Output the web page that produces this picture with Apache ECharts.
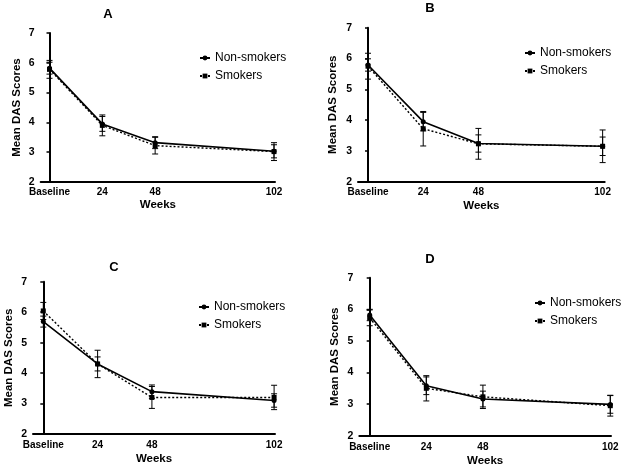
<!DOCTYPE html>
<html><head><meta charset="utf-8">
<script src="https://cdn.jsdelivr.net/npm/echarts@6/dist/echarts.min.js"></script>
<style>html,body{margin:0;padding:0;background:#fff}#c{width:624px;height:470px}</style>
</head><body><div id="c"></div>
<script>
const weeks = [0, 24, 48, 102];
const weekLabels = ['Baseline', '24', '48', '102'];
const panelTitles = ['A', 'B', 'C', 'D'];
const seriesNames = ['Non-smokers', 'Smokers'];

const nonSmokersA = [5.82, 3.95, 3.32, 3.03];
const nonSmokersErrA = [0.2, 0.25, 0.2, 0.22];
const smokersA = [5.78, 3.9, 3.22, 3.02];
const smokersErrA = [0.3, 0.35, 0.28, 0.3];

const nonSmokersB = [5.79, 3.95, 3.24, 3.15];
const nonSmokersErrB = [0.2, 0.3, 0.28, 0.3];
const smokersB = [5.75, 3.72, 3.23, 3.15];
const smokersErrB = [0.42, 0.56, 0.5, 0.53];

const nonSmokersC = [5.69, 4.3, 3.39, 3.1];
const nonSmokersErrC = [0.18, 0.23, 0.22, 0.22];
const smokersC = [6.04, 4.3, 3.2, 3.2];
const smokersErrC = [0.28, 0.45, 0.36, 0.4];

const nonSmokersD = [5.82, 3.58, 3.16, 2.99];
const nonSmokersErrD = [0.18, 0.28, 0.25, 0.28];
const smokersD = [5.73, 3.5, 3.23, 2.95];
const smokersErrD = [0.25, 0.4, 0.37, 0.33];

const panels = [
  {ns: nonSmokersA, nsE: nonSmokersErrA, s: smokersA, sE: smokersErrA},
  {ns: nonSmokersB, nsE: nonSmokersErrB, s: smokersB, sE: smokersErrB},
  {ns: nonSmokersC, nsE: nonSmokersErrC, s: smokersC, sE: smokersErrC},
  {ns: nonSmokersD, nsE: nonSmokersErrD, s: smokersD, sE: smokersErrD}
];

// layout per panel
const layout = [
  {left: 40.7, top: 33, width: 234.3, height: 149, xmin: -4.0, xmax: 102.45, yGap: 18.3, xGap: 17, lblM: 5,
   title: [108, 7.5], legend: [199, 52]},
  {left: 358, top: 27.7, width: 246.7, height: 154, xmin: -4.35, xmax: 102.9, yGap: 19.5, xGap: 18, lblM: 5.3,
   title: [430, 1.5], legend: [524, 47]},
  {left: 33, top: 281.7, width: 242, height: 152.3, xmin: -4.55, xmax: 102.4, yGap: 18, xGap: 19, lblM: 6,
   title: [114, 260.5], legend: [198, 301]},
  {left: 359.3, top: 277.7, width: 251.7, height: 158, xmin: -4.41, xmax: 102.3, yGap: 18.9, xGap: 19, lblM: 7,
   title: [430, 252.5], legend: [534, 297]}
];

const FONT = 'Liberation Sans, Arial, sans-serif';

function errRender(params, api) {
  const x = api.value(0), y = api.value(1), e = api.value(2);
  const t = api.coord([x, y + e]);
  const b = api.coord([x, y - e]);
  const w = 3;
  const st = {stroke: '#000', lineWidth: 1};
  return {type: 'group', children: [
    {type: 'line', shape: {x1: t[0], y1: t[1], x2: b[0], y2: b[1]}, style: st},
    {type: 'line', shape: {x1: t[0] - w, y1: t[1], x2: t[0] + w, y2: t[1]}, style: st},
    {type: 'line', shape: {x1: b[0] - w, y1: b[1], x2: b[0] + w, y2: b[1]}, style: st}
  ]};
}

const grid = [], xAxis = [], yAxis = [], series = [], title = [], legend = [];
panels.forEach((p, i) => {
  const L = layout[i];
  grid.push({left: L.left, top: L.top, width: L.width, height: L.height});
  xAxis.push({
    type: 'value', gridIndex: i, min: L.xmin, max: L.xmax,
    name: 'Weeks', nameLocation: 'middle', nameGap: L.xGap,
    nameTextStyle: {fontFamily: FONT, fontWeight: 'bold', fontSize: 11.5, color: '#000'},
    axisLine: {show: true, onZero: false, lineStyle: {color: '#000', width: 2}},
    axisTick: {show: false},
    splitLine: {show: false},
    axisLabel: {
      customValues: weeks, margin: L.lblM,
      formatter: v => weekLabels[weeks.indexOf(v)],
      fontFamily: FONT, fontWeight: 'bold', fontSize: 10, color: '#000'
    }
  });
  yAxis.push({
    type: 'value', gridIndex: i, min: 2, max: 7, interval: 1,
    name: 'Mean DAS Scores', nameLocation: 'middle', nameGap: L.yGap, nameRotate: 90,
    nameTextStyle: {fontFamily: FONT, fontWeight: 'bold', fontSize: 11.5, color: '#000'},
    axisLine: {show: true, lineStyle: {color: '#000', width: 2}},
    axisTick: {show: true, length: 3, lineStyle: {color: '#000', width: 1.5}},
    splitLine: {show: false},
    axisLabel: {margin: 6, fontFamily: FONT, fontWeight: 'bold', fontSize: 10.5, color: '#000'}
  });
  title.push({
    text: panelTitles[i], left: L.title[0], top: L.title[1], textAlign: 'center', padding: 0,
    textStyle: {fontFamily: FONT, fontWeight: 'bold', fontSize: 13, color: '#000'}
  });
  legend.push({
    data: seriesNames, orient: 'vertical', left: L.legend[0], top: L.legend[1],
    itemWidth: 10, itemHeight: 6, itemGap: 6, padding: 0,
    textStyle: {fontFamily: FONT, fontSize: 12, color: '#000'}
  });
  series.push({
    name: 'err-ns-' + i, type: 'custom', xAxisIndex: i, yAxisIndex: i, renderItem: errRender,
    encode: {x: 0, y: 1}, silent: true, z: 1,
    data: weeks.map((w, k) => [w, p.ns[k], p.nsE[k]])
  });
  series.push({
    name: 'err-s-' + i, type: 'custom', xAxisIndex: i, yAxisIndex: i, renderItem: errRender,
    encode: {x: 0, y: 1}, silent: true, z: 1,
    data: weeks.map((w, k) => [w, p.s[k], p.sE[k]])
  });
  series.push({
    name: seriesNames[0], type: 'line', xAxisIndex: i, yAxisIndex: i, z: 3,
    symbol: 'circle', symbolSize: 5, showSymbol: true,
    lineStyle: {color: '#000', width: 1.6, type: 'solid'},
    itemStyle: {color: '#000'},
    data: weeks.map((w, k) => [w, p.ns[k]])
  });
  series.push({
    name: seriesNames[1], type: 'line', xAxisIndex: i, yAxisIndex: i, z: 2,
    symbol: 'rect', symbolSize: 5, showSymbol: true,
    lineStyle: {color: '#000', width: 1.4, type: [2, 2]},
    itemStyle: {color: '#000'},
    data: weeks.map((w, k) => [w, p.s[k]])
  });
});

const chart = echarts.init(document.getElementById('c'), null, {renderer: 'canvas'});
chart.setOption({
  animation: false, backgroundColor: '#fff',
  title, legend, grid, xAxis, yAxis, series
});
</script></body></html>
